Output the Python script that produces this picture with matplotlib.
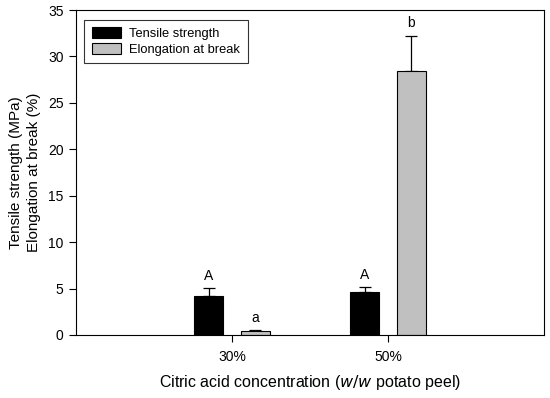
import matplotlib
matplotlib.use('Agg')
import matplotlib.pyplot as plt
import numpy as np

# Data
concentrations = ['30%', '50%']
tensile = [4.2, 4.6]
tensile_err = [0.85, 0.55]
elongation = [0.42, 28.4]
elongation_err = [0.08, 3.85]
tensile_letters = ['A', 'A']
elongation_letters = ['a', 'b']

matplotlib.rc('font', family='Liberation Sans')

fig = plt.figure(figsize=(5.5, 3.98), dpi=100)
ax = fig.add_axes([76 / 550, 1 - 335 / 398, 468 / 550, 325 / 398])

x = np.arange(1, len(concentrations) + 1)
width = 0.185
off = 0.15

ax.bar(x - off, tensile, width, color='black', edgecolor='black',
       linewidth=0.8, label='Tensile strength', zorder=2)
ax.bar(x + off, elongation, width, color='#c0c0c0', edgecolor='black',
       linewidth=0.8, label='Elongation at break', zorder=2)

# upper-only error bars
ax.errorbar(x - off, tensile, yerr=[np.zeros(len(x)), tensile_err], fmt='none',
            ecolor='black', elinewidth=0.9, capsize=4, capthick=0.9, zorder=1)
ax.errorbar(x + off, elongation, yerr=[np.zeros(len(x)), elongation_err],
            fmt='none', ecolor='black', elinewidth=0.9, capsize=4,
            capthick=0.9, zorder=1)

for i in range(len(x)):
    ax.text(x[i] - off, tensile[i] + tensile_err[i] + 0.6, tensile_letters[i],
            ha='center', va='bottom', fontsize=10)
    ax.text(x[i] + off, elongation[i] + elongation_err[i] + 0.6,
            elongation_letters[i], ha='center', va='bottom', fontsize=10)

ax.set_xlim(0, 3)
ax.set_ylim(0, 35)
ax.set_xticks(x)
ax.set_xticklabels(concentrations)
ax.set_yticks(np.arange(0, 36, 5))
ax.tick_params(axis='both', direction='out', length=5, width=0.8,
               labelsize=10)
ax.tick_params(axis='x', pad=6)
ax.tick_params(axis='y', pad=4)
for s in ax.spines.values():
    s.set_linewidth(0.8)

ax.set_ylabel('Tensile strength (MPa)\nElongation at break (%)', fontsize=11,
              labelpad=5, linespacing=1.35)
ax.set_xlabel('Citric acid concentration ($\\it{w/w}$ potato peel)',
              fontsize=11.5, labelpad=6)

leg = ax.legend(loc='upper left', bbox_to_anchor=(0.003, 0.99), fontsize=9.3,
                frameon=True, fancybox=False, edgecolor='black',
                handlelength=2.3, handleheight=0.9, borderpad=0.6,
                labelspacing=0.2, handletextpad=0.6)
leg.get_frame().set_linewidth(0.8)

fig.savefig('out.png', dpi=100)
